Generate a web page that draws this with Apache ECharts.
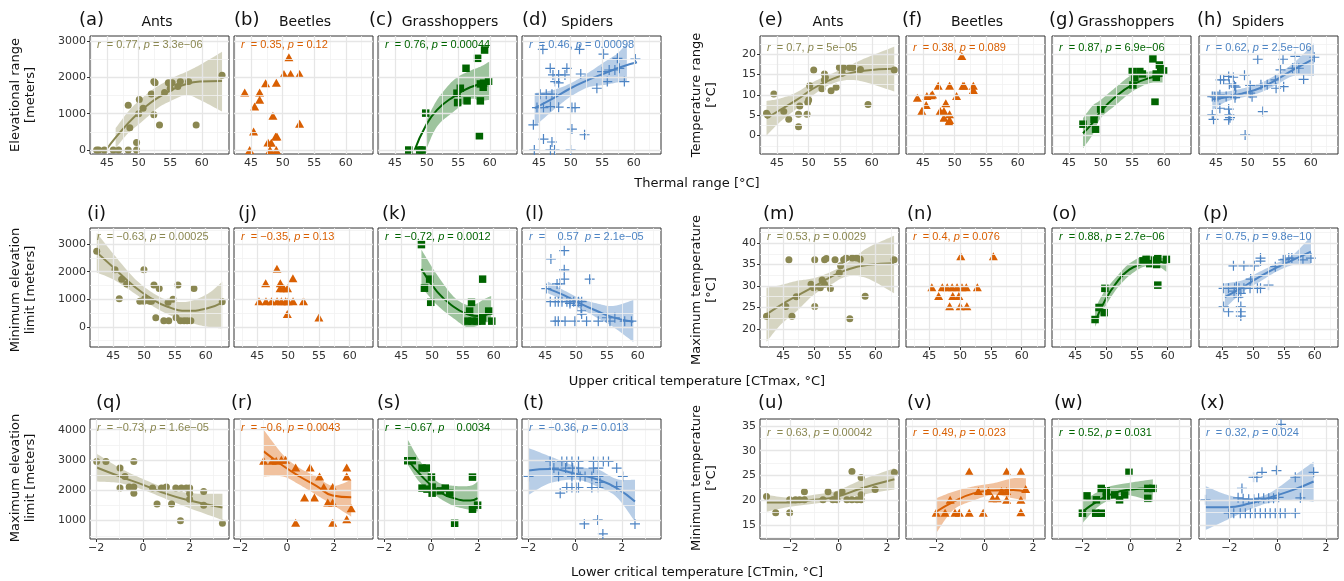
<!DOCTYPE html>
<html><head><meta charset="utf-8">
<script src="https://cdn.jsdelivr.net/npm/echarts@6/dist/echarts.min.js"></script>
<style>html,body{margin:0;padding:0;background:#fff}#c{width:1344px;height:581px}</style>
</head><body><div id="c"></div><script>
// ---------------- categories / labels ----------------
const taxa = ['Ants', 'Beetles', 'Grasshoppers', 'Spiders'];
const panelLetters = ['(a)','(b)','(c)','(d)','(e)','(f)','(g)','(h)','(i)','(j)','(k)','(l)','(m)','(n)','(o)','(p)','(q)','(r)','(s)','(t)','(u)','(v)','(w)','(x)'];
const annotations = [
  '{i|r}  = 0.77, {i|p} = 3.3e\u221206', '{i|r}  = 0.35, {i|p} = 0.12', '{i|r}  = 0.76, {i|p} = 0.00044', '{i|r}  = 0.46, {i|p} = 0.00098',
  '{i|r}  = 0.7, {i|p} = 5e\u221205', '{i|r}  = 0.38, {i|p} = 0.089', '{i|r}  = 0.87, {i|p} = 6.9e\u221206', '{i|r}  = 0.62, {i|p} = 2.5e\u221206',
  '{i|r}  = \u22120.63, {i|p} = 0.00025', '{i|r}  = \u22120.35, {i|p} = 0.13', '{i|r}  = \u22120.72, {i|p} = 0.0012', '{i|r}  =    0.57  {i|p} = 2.1e\u221205',
  '{i|r}  = 0.53, {i|p} = 0.0029', '{i|r}  = 0.4, {i|p} = 0.076', '{i|r}  = 0.88, {i|p} = 2.7e\u221206', '{i|r}  = 0.75, {i|p} = 9.8e\u221210',
  '{i|r}  = \u22120.73, {i|p} = 1.6e\u221205', '{i|r}  = \u22120.6, {i|p} = 0.0043', '{i|r}  = \u22120.67, {i|p}    0.0034', '{i|r}  = \u22120.36, {i|p} = 0.013',
  '{i|r}  = 0.63, {i|p} = 0.00042', '{i|r}  = 0.49, {i|p} = 0.023', '{i|r}  = 0.52, {i|p} = 0.031', '{i|r}  = 0.32, {i|p} = 0.024'
];
const xTitles = ['Thermal range [\u00b0C]', 'Upper critical temperature [CTmax, \u00b0C]', 'Lower critical temperature [CTmin, \u00b0C]'];
const yTitlesLeft = ['Elevational range\n[meters]', 'Minimum elevation\nlimit [meters]', 'Maximum elevation\nlimit [meters]'];
const yTitlesRight = ['Temperature range\n[\u00b0C]', 'Maximum temperature\n[\u00b0C]', 'Minimum temperature\n[\u00b0C]'];

// ---------------- tick labels (major) and minor grid ----------------
const xTicksThermal = [45, 50, 55, 60];
const xMinorThermal = [42.5, 47.5, 52.5, 57.5, 62.5];
const xTicksCTmax = [45, 50, 55, 60];
const xMinorCTmax = [42.5, 47.5, 52.5, 57.5, 62.5];
const xTicksCTmin = [-2, 0, 2];
const xMinorCTminL = [-1, 1, 3];
const xMinorCTminR = [-3, -1, 1];
const yTicksElevRange = [0, 1000, 2000, 3000];
const yMinorElevRange = [500, 1500, 2500];
const yTicksTempRange = [0, 5, 10, 15, 20];
const yMinorTempRange = [-2.5, 2.5, 7.5, 12.5, 17.5, 22.5];
const yTicksMinElev = [0, 1000, 2000, 3000];
const yMinorMinElev = [-500, 500, 1500, 2500, 3500];
const yTicksMaxTemp = [20, 25, 30, 35, 40];
const yMinorMaxTemp = [17.5, 22.5, 27.5, 32.5, 37.5, 42.5];
const yTicksMaxElev = [1000, 2000, 3000, 4000];
const yMinorMaxElev = [500, 1500, 2500, 3500];
const yTicksMinTemp = [15, 20, 25, 30, 35];
const yMinorMinTemp = [12.5, 17.5, 22.5, 27.5, 32.5];

// ---------------- data: points [x, y]; fits [x, y]; bands [x, lower, upper] ----------------
// (a) Ants: thermal range vs elevational range
const ptsA = [[43.35,0],[43.67,0],[44.56,0],[45.98,0],[46.83,0],[48.35,0],[49.67,0],[49.67,209],[48.35,1235],[48.6,612],[50.0,996],[50.1,1389],[50.7,1152],[52.0,1545],[52.4,1884],[52.6,1850],[52.4,969],[53.3,686],[54.1,1581],[54.7,1850],[55.3,1850],[55.0,1701],[56.2,1746],[56.6,1884],[57.9,1884],[59.1,686],[63.2,2058]];
const fitA = [[44.83,0],[46.5,374],[48.35,741],[49.93,1015],[51.78,1290],[53.36,1472],[55.46,1674],[57.57,1820],[59.68,1884],[63.2,1902]];
const bandA = [[46.36,55,604],[48.35,467,1060],[49.93,694,1335],[51.78,969,1610],[53.36,1197,1792],[55.46,1381,1994],[57.57,1518,2158],[59.68,1381,2342],[63.2,1060,2707]];
// (b) Beetles
const ptsB = [[50.99,2553],[50.2,2094],[51.26,2094],[52.68,2094],[47.3,1839],[49.0,1850],[44.0,1581],[46.36,1581],[46.36,1381],[45.57,1197],[48.46,942],[52.68,722],[45.4,511],[47.67,209],[48.2,200],[48.89,373],[49.1,373],[44.78,0],[48.0,0],[49.0,0]];
// (c) Grasshoppers
const ptsC = [[59.17,2753],[58.07,2525],[56.23,2251],[59.8,1894],[58.5,1820],[59.0,1840],[58.95,1729],[55.33,1701],[54.8,1565],[54.9,1307],[56.4,1353],[58.5,1353],[49.85,1016],[58.35,393],[47.17,0],[48.9,0],[49.3,0]];
const fitC = [[48.1,0],[49.8,648],[51.65,1106],[54.3,1472],[56.9,1729],[59.3,1840]];
const bandC = [[49.9,0,786],[51.65,648,1381],[54.3,1060,1930],[56.9,1400,2185],[58.5,1353,2295],[59.9,1381,2432]];
// (d) Spiders
const ptsD = [[45.6,2772],[51.4,2772],[55.2,2643],[57.4,2525],[60.25,2506],[46.77,2251],[49.4,2251],[47.2,2067],[48.1,2067],[49.1,2067],[51.6,2094],[54.98,2158],[56.1,2204],[57.0,2204],[57.7,2251],[55.8,1884],[58.5,1884],[54.15,1701],[47.56,1884],[48.1,1850],[45.2,1537],[46.14,1537],[47.04,1537],[44.67,1170],[45.7,1170],[46.8,1197],[48.1,1180],[50.2,1170],[50.7,1170],[44.1,694],[50.2,576],[52.2,420],[45.7,302],[47.04,220],[44.25,0],[46.8,0],[47.45,0],[50.0,0]];
const fitD = [[44.3,1153],[47.3,1427],[50.0,1701],[52.8,1930],[55.4,2114],[58.1,2295],[60.5,2415]];
const bandD = [[44.3,648,1565],[47.3,1106,1655],[50.0,1472,1839],[52.8,1729,2130],[55.4,1792,2432],[57.4,1860,2660],[58.9,1880,2937]];
// (e) Ants: thermal range vs temperature range
const ptsE = [[43.33,5.49],[43.5,5.07],[44.5,10.2],[46.06,5.88],[46.85,4.0],[48.4,5.24],[48.6,7.28],[48.4,2.2],[49.75,5.24],[49.85,8.09],[50.0,8.75],[50.17,12.2],[50.8,16.1],[52.1,11.5],[52.5,15.1],[52.65,14.3],[52.5,13.65],[53.55,11.0],[54.35,11.85],[54.86,16.67],[55.5,16.67],[55.3,15.3],[56.5,16.67],[57.0,16.67],[58.2,16.2],[59.4,7.6],[63.55,16.1]];
const fitE = [[43.33,4.26],[45.5,6.3],[48.1,8.75],[50.8,11.6],[53.4,13.65],[56.0,15.1],[58.7,15.9],[63.55,16.35]];
const bandE = [[43.33,0,8.5],[45.5,3.4,9.1],[48.1,6.6,10.6],[50.8,10.0,13.2],[53.4,12.5,15.0],[56.0,13.6,16.8],[58.7,13.2,18.8],[63.55,10.8,21.8]];
// (f) Beetles
const ptsF = [[51.13,19.5],[47.4,12.2],[49.2,12.2],[51.3,12.2],[51.5,12.2],[52.96,12.2],[52.96,11.2],[44.1,9.3],[45.6,9.7],[46.3,9.9],[46.5,10.1],[50.3,9.7],[48.6,7.9],[45.5,7.5],[44.8,6.05],[47.7,6.05],[48.3,6.05],[49.2,5.24],[48.3,4.4],[49.2,3.85],[49.1,3.4]];
// (g) Grasshoppers
const ptsG = [[58.27,18.8],[59.3,17.3],[59.5,16.5],[59.96,15.86],[55.0,15.7],[56.2,15.7],[56.6,15.1],[55.4,14.3],[58.8,15.1],[58.8,14.3],[55.1,12.4],[58.6,8.2],[50.0,6.5],[48.95,4.0],[47.2,2.8],[49.2,1.57]];
const fitG = [[47.2,0.59],[48.7,3.04],[50.0,5.9],[52.4,9.56],[55.0,12.4],[57.7,14.1],[59.8,14.6]];
const bandG = [[47.2,-3.1,4.26],[48.7,0.17,7.3],[50.0,4.26,8.75],[52.4,7.5,11.85],[55.0,10.8,14.9],[57.7,12.8,15.7],[59.8,13.0,15.9]];
// (h) Spiders
const ptsH = [[51.6,18.7],[55.6,18.7],[57.55,19.4],[60.55,19.2],[55.2,16.1],[57.1,16.5],[57.6,16.5],[58.1,16.5],[58.86,13.8],[54.4,13.65],[54.5,11.6],[55.7,12.0],[45.7,13.65],[46.2,13.65],[47.0,14.5],[47.7,14.3],[49.5,14.8],[47.1,12.6],[47.9,12.2],[48.1,11.9],[50.4,12.3],[52.1,12.45],[53.1,12.45],[44.4,9.56],[44.8,9.5],[45.3,9.6],[45.6,10.0],[46.6,9.56],[48.1,10.0],[50.4,10.4],[50.7,9.5],[48.0,9.3],[44.4,5.07],[44.6,4.0],[45.6,6.7],[47.0,6.5],[47.1,5.07],[47.2,4.4],[47.0,3.9],[52.4,5.9],[49.6,0.17]];
const fitH = [[44.4,8.9],[46.6,9.4],[49.3,10.4],[51.9,11.6],[54.5,13.65],[57.2,16.1],[60.3,18.7]];
const bandH = [[44.4,6.3,10.8],[46.6,8.3,10.8],[49.3,9.4,11.6],[51.9,10.5,12.8],[54.5,12.4,14.9],[57.2,14.6,17.7],[60.5,14.6,22.6]];
// (i) Ants: CTmax vs minimum elevation
const ptsI = [[42.29,2737],[45.26,2069],[46.35,1730],[47.16,1558],[45.96,1022],[49.97,2069],[49.3,927],[49.97,930],[50.1,1022],[50.9,930],[51.2,930],[51.6,1522],[52.45,1387],[53.9,890],[54.7,1000],[55.5,1522],[58.1,1387],[62.7,912],[51.9,328],[53.2,219],[54.0,219],[55.2,328],[55.9,219],[56.5,219],[57.0,219],[57.6,219]];
const fitI = [[42.3,2700],[45.1,2131],[48.4,1460],[51.1,1036],[53.8,730],[57.0,584],[60.3,672],[62.7,876]];
const bandI = [[42.3,1971,3409],[45.1,1704,2617],[48.4,1219,1766],[51.1,792,1277],[53.8,464,974],[57.0,182,912],[60.3,0,1193],[62.7,-60,1642]];
// (j) Beetles
const ptsJ = [[48.18,2106],[50.78,1766],[46.35,1584],[48.73,1584],[48.7,1401],[49.3,1401],[49.9,1401],[45.26,927],[46.4,927],[47.3,927],[48.2,927],[48.9,927],[49.6,927],[50.0,927],[50.8,927],[52.5,927],[49.87,464],[55.0,343]];
// (k) Grasshoppers
const ptsK = [[48.26,2982],[49.6,1730],[48.75,1401],[49.77,890],[58.2,1730],[56.4,890],[56.1,573],[59.2,573],[55.7,208],[56.5,208],[57.3,208],[58.1,208],[58.2,328],[59.7,208]];
const fitK = [[48.26,2094],[50.8,1277],[53.5,730],[55.7,464],[57.3,391],[58.4,410],[59.6,520]];
const bandK = [[48.26,1438,2800],[50.8,792,1887],[53.5,306,1095],[55.7,-22,792],[57.3,30,850],[58.4,150,1000],[59.6,182,1120]];
// (l) Spiders
const ptsL = [[48.07,2763],[45.9,2460],[48.07,2069],[48.07,1730],[52.2,1730],[46.9,1558],[47.4,1558],[45.15,1387],[45.8,912],[46.6,912],[47.1,912],[47.7,912],[48.5,912],[49.0,912],[49.6,912],[50.4,912],[50.9,912],[49.0,850],[50.1,780],[50.8,584],[50.9,464],[46.6,208],[47.1,208],[48.2,208],[49.8,208],[51.7,208],[53.6,208],[55.0,330],[55.5,208],[56.3,330],[57.9,208],[59.0,208]];
const fitL = [[45.4,1387],[47.9,1157],[50.6,854],[53.3,584],[56.0,343],[59.3,182]];
const bandL = [[45.4,1219,1642],[47.9,974,1339],[50.6,671,1036],[53.3,343,854],[56.0,0,755],[59.3,-547,974]];
// (m) Ants: CTmax vs maximum temperature
const ptsM = [[42.26,22.98],[45.4,25.2],[46.4,22.98],[45.9,36.1],[47.1,27.5],[49.5,30.4],[49.9,29.6],[50.1,36.1],[50.1,25.2],[51.0,29.6],[51.3,31.4],[51.7,30.4],[51.7,36.1],[52.0,36.4],[52.65,29.4],[53.4,36.1],[54.1,33.0],[54.3,34.7],[54.8,36.1],[55.2,36.5],[56.2,36.5],[56.9,36.5],[57.5,36.2],[55.8,22.35],[58.3,27.6],[63.0,36.1]];
const fitM = [[42.26,23.4],[44.5,25.5],[47.2,27.7],[49.9,29.8],[52.6,32.0],[55.3,33.75],[58.6,34.9],[63.0,35.3]];
const bandM = [[42.26,17.0,29.6],[44.5,20.9,30.2],[47.2,24.2,31.2],[49.9,27.9,31.8],[52.6,30.2,33.2],[55.3,32.2,35.3],[58.6,31.8,38.8],[63.0,28.3,41.7]];
// (n) Beetles
const ptsN = [[50.1,36.9],[55.4,36.9],[45.4,29.7],[47.1,29.7],[47.9,29.7],[48.7,29.7],[49.5,29.7],[50.3,29.7],[51.0,29.7],[52.8,29.7],[46.5,27.65],[48.8,27.65],[49.8,27.65],[48.3,25.3],[50.0,25.3],[51.1,25.3]];
// (o) Grasshoppers
const ptsO = [[56.0,35.85],[56.5,36.2],[57.1,35.2],[57.9,36.0],[58.4,36.4],[59.8,36.2],[58.2,35.0],[58.4,30.2],[49.8,29.45],[48.85,25.0],[49.7,23.8],[48.2,22.2]];
const fitO = [[48.2,21.6],[49.7,26.3],[51.6,30.6],[53.7,33.75],[56.0,35.15],[58.2,35.7],[59.8,35.15]];
const bandO = [[48.2,20.5,24.8],[49.7,24.8,28.7],[51.6,29.1,32.0],[53.7,32.3,35.15],[56.0,34.4,36.9],[58.2,34.7,36.9],[59.8,33.3,36.1]];
// (p) Spiders
const ptsP = [[59.4,36.5],[58.1,36.1],[56.3,36.5],[55.8,36.5],[55.2,36.2],[54.9,36.1],[53.6,34.5],[51.2,36.5],[51.2,35.8],[46.8,34.7],[48.5,34.7],[50.2,34.7],[49.6,31.6],[52.5,30.2],[46.0,29.45],[47.0,29.45],[47.7,29.45],[48.5,29.45],[49.5,29.45],[50.7,29.45],[51.2,29.45],[45.2,29.45],[47.3,29.8],[46.9,28.8],[48.0,28.3],[47.6,27.4],[45.2,25.2],[46.0,24.0],[48.0,25.2],[48.0,24.0],[48.0,23.0]];
const fitP = [[45.4,27.4],[48.4,29.8],[51.1,32.2],[53.8,34.3],[56.5,36.1],[59.4,38.0]];
const bandP = [[45.4,24.8,30.6],[48.4,28.7,31.4],[51.1,31.0,33.35],[53.8,33.35,35.3],[56.5,34.9,37.3],[59.4,35.15,41.5]];
// (q) Ants: CTmin vs maximum elevation
const ptsQ = [[-1.975,2954],[-1.58,2954],[-0.98,2735],[-0.77,2457],[-0.98,2073],[-0.59,2106],[-0.39,2954],[-0.39,2106],[-0.39,1907],[0.41,2073],[0.6,1553],[0.79,2073],[0.93,2073],[1.0,2106],[1.22,1553],[1.4,2073],[1.64,2073],[1.85,2073],[1.99,2073],[1.99,1907],[1.99,1709],[1.6,1000],[2.59,1960],[2.59,1510],[3.39,914]];
const fitQ = [[-1.975,2755],[-0.98,2457],[0.01,2182],[1.0,1884],[1.99,1662],[3.39,1430]];
const bandQ = [[-1.975,2291,3209],[-0.98,2238,2735],[0.01,2017,2371],[1.0,1709,2073],[1.99,1410,1907],[3.39,1022,1884]];
// (r) Beetles
const ptsR = [[-0.996,2977],[-0.63,2977],[-0.46,2977],[-0.24,3010],[-0.06,3010],[0.37,2755],[0.99,2755],[1.39,2457],[1.57,2106],[1.95,2106],[2.55,2755],[2.55,2457],[0.75,1762],[1.17,1762],[1.74,1596],[1.95,1596],[2.74,1410],[0.37,934],[1.95,934],[2.55,1046]];
const fitR = [[-0.996,3285],[-0.17,2811],[0.54,2457],[1.25,2149],[1.95,1830],[2.74,1770]];
const bandR = [[-0.996,2457,4003],[-0.17,2457,3175],[0.54,2182,2735],[1.25,1851,2457],[1.95,1520,2149],[2.74,1132,2348]];
// (s) Grasshoppers
const ptsS = [[-0.99,2977],[-0.8,2977],[-0.38,2735],[-0.2,2735],[0.02,2437],[-0.38,2073],[-0.17,2040],[0.05,2106],[0.05,1907],[0.4,1983],[0.61,2073],[0.8,1907],[1.77,2437],[1.77,1377],[1.99,1510],[1.01,914]];
const fitS = [[-0.99,3010],[-0.45,2513],[0.26,2017],[0.97,1742],[1.68,1662],[1.99,1742]];
const bandS = [[-0.99,2844,3672],[-0.45,2238,2954],[0.26,1795,2291],[0.97,1487,2149],[1.68,1354,2149],[1.99,1298,2291]];
// (t) Spiders
const ptsT = [[-1.98,2457],[-1.06,2954],[-0.56,2954],[-0.35,2954],[-0.13,2954],[0.15,2954],[-0.9,2735],[-0.4,2735],[-0.1,2735],[0.15,2735],[-0.7,2457],[-0.13,2457],[0.22,2457],[0.43,2457],[0.72,2457],[1.0,2457],[0.79,2954],[1.0,2954],[1.21,2954],[1.43,2954],[0.79,2735],[1.0,2735],[1.78,2735],[2.04,2457],[1.07,2258],[1.78,2126],[-0.35,2093],[-0.13,2093],[0.05,2093],[0.15,2093],[0.72,2093],[1.0,2093],[-0.63,1907],[0.4,891],[0.97,1023],[1.19,560],[2.56,891]];
const fitT = [[-1.98,2656],[-1.06,2702],[0.08,2536],[1.0,2348],[1.78,2073],[2.56,1629]];
const bandT = [[-1.98,1851,3397],[-1.06,2238,3119],[0.08,2348,2788],[1.0,2106,2679],[1.78,1775,2371],[2.56,967,2348]];
// (u) Ants: CTmin vs minimum temperature
const ptsU = [[-2.99,20.75],[-2.61,17.5],[-2.03,17.5],[-2.03,20.1],[-1.79,20.1],[-1.62,20.1],[-1.42,20.1],[-1.42,21.75],[-0.65,20.1],[-0.44,21.75],[-0.24,20.1],[-0.07,20.1],[-0.07,21.1],[0.14,21.75],[0.34,20.1],[0.55,20.1],[0.76,20.1],[0.93,20.1],[0.55,25.8],[0.93,24.6],[0.93,21.1],[1.51,22.2],[2.31,25.6]];
const fitU = [[-2.99,19.55],[-2.03,19.55],[-1.04,20.1],[-0.07,20.75],[0.93,22.4],[2.31,24.25]];
const bandU = [[-2.99,17.7,21.1],[-2.03,18.7,20.55],[-1.04,19.3,21.1],[-0.07,19.95,21.95],[0.93,21.1,24.1],[2.31,22.2,26.5]];
// (v) Beetles
const ptsV = [[-2.01,17.5],[-1.64,17.5],[-1.43,20.1],[-1.23,17.5],[-1.05,17.5],[-0.64,25.8],[-0.64,17.5],[-0.26,21.9],[-0.06,17.5],[0.15,21.9],[0.33,20.4],[0.52,20.4],[0.7,21.9],[0.91,21.9],[0.91,25.8],[0.91,20.1],[1.5,25.8],[1.7,22.3],[1.5,20.1],[1.5,17.6]];
const fitV = [[-2.01,17.7],[-1.3,19.7],[-0.47,21.4],[0.36,22.0],[1.18,22.1],[1.71,21.75]];
const bandV = [[-2.01,13.4,20.4],[-1.3,18.05,21.75],[-0.47,19.95,22.8],[0.36,21.1,23.45],[1.18,20.4,24.45],[1.71,20.1,24.45]];
// (w) Grasshoppers
const ptsW = [[-2.0,17.4],[-1.81,20.9],[-1.45,17.4],[-1.22,17.4],[-1.42,20.1],[-1.22,22.4],[-1.01,21.9],[-1.01,20.6],[-0.66,21.1],[-0.46,20.1],[-0.25,21.1],[-0.07,25.65],[0.71,22.4],[0.92,22.4],[0.71,20.4]];
const fitW = [[-2.0,17.7],[-1.42,19.7],[-0.87,21.1],[-0.18,22.1],[0.92,22.4]];
const bandW = [[-2.0,15.4,19.7],[-1.42,18.4,21.55],[-0.87,20.1,22.8],[-0.18,21.1,23.45],[0.92,19.7,24.25]];
// (x) Spiders
const ptsX = [[0.14,35.3],[-2.99,20.1],[-2.03,17.4],[-1.82,17.4],[-1.55,17.4],[-1.34,17.4],[-1.13,17.4],[-0.93,17.4],[-0.72,17.4],[-0.51,17.4],[-0.31,17.4],[-0.1,17.4],[0.11,17.4],[0.31,17.4],[0.73,17.4],[-1.64,20.5],[-1.43,20.3],[-1.2,20.2],[-0.99,20.2],[-0.79,20.4],[-0.58,20.4],[-0.37,20.4],[-0.17,20.4],[0.04,20.6],[-1.48,22.4],[-1.0,24.65],[-0.86,24.65],[-0.65,25.65],[-0.05,26.0],[0.73,24.65],[0.94,20.5],[1.49,25.65]];
const fitX = [[-2.99,18.6],[-2.1,18.6],[-1.13,19.4],[-0.31,20.6],[0.64,22.1],[1.49,23.8]];
const bandX = [[-2.99,14.0,22.9],[-2.1,16.05,21.1],[-1.13,18.2,20.4],[-0.31,19.55,21.55],[0.64,20.1,24.8],[1.49,19.7,27.8]];

const panelPts = [ptsA,ptsB,ptsC,ptsD,ptsE,ptsF,ptsG,ptsH,ptsI,ptsJ,ptsK,ptsL,ptsM,ptsN,ptsO,ptsP,ptsQ,ptsR,ptsS,ptsT,ptsU,ptsV,ptsW,ptsX];
const panelFit = [fitA,null,fitC,fitD,fitE,null,fitG,fitH,fitI,null,fitK,fitL,fitM,null,fitO,fitP,fitQ,fitR,fitS,fitT,fitU,fitV,fitW,fitX];
const panelBand = [bandA,null,bandC,bandD,bandE,null,bandG,bandH,bandI,null,bandK,bandL,bandM,null,bandO,bandP,bandQ,bandR,bandS,bandT,bandU,bandV,bandW,bandX];

// ---------------- layout & style ----------------
const colLeft = [90, 234, 378, 522, 760, 906, 1052, 1199];
const rowTop = [36, 228, 419];
const rowH = [118, 119, 120];
const panelW = 139;
const xRange = [[[42.3,64.3],[42.3,64.3]], [[41.2,63.8],[41.2,63.8]], [[-2.26,3.67],[-3.26,2.5]]];
const yRange = [[[-110,3140],[-4.5,24.4]], [[-730,3584],[15.8,43.5]], [[394,4354],[12.2,36.4]]];
const xTickSets = [[[xTicksThermal,xMinorThermal],[xTicksThermal,xMinorThermal]], [[xTicksCTmax,xMinorCTmax],[xTicksCTmax,xMinorCTmax]], [[xTicksCTmin,xMinorCTminL],[xTicksCTmin,xMinorCTminR]]];
const yTickSets = [[[yTicksElevRange,yMinorElevRange],[yTicksTempRange,yMinorTempRange]], [[yTicksMinElev,yMinorMinElev],[yTicksMaxTemp,yMinorMaxTemp]], [[yTicksMaxElev,yMinorMaxElev],[yTicksMinTemp,yMinorMinTemp]]];
const taxonColor = ['#8a8751', '#d95f02', '#006400', '#4d84c4'];
const bandOpacity = [0.35, 0.38, 0.38, 0.4];
const plusPath = 'path://M4.4,0H5.6V4.4H10V5.6H5.6V10H4.4V5.6H0V4.4H4.4Z';
const taxonSymbol = ['circle', 'triangle', 'rect', plusPath];
const taxonSize = [7, [9, 8], 7.5, 10];
const letterX = [[79,234,369,522,758,902,1049,1197],[87,238,382,525,763,907,1052,1203],[96,231,377,523,758,907,1054,1200]];
const letterY = [20, 214, 403];
const stripX = [157,305,450,587,828,977,1126,1258];
const annDy = [[9,11.5],[8.5,8.5],[9,14]];
const FONT = '"DejaVu Sans", sans-serif';

function crSpline(p) {
  if (p.length < 3) return p;
  const out = [];
  for (let i = 0; i < p.length - 1; i++) {
    const p0 = p[i - 1] || p[i], p1 = p[i], p2 = p[i + 1], p3 = p[i + 2] || p[i + 1];
    for (let s = 0; s < 12; s++) {
      const t = s / 12, t2 = t * t, t3 = t2 * t;
      const f = (a, b, c, d) => 0.5 * (2 * b + (-a + c) * t + (2 * a - 5 * b + 4 * c - d) * t2 + (-a + 3 * b - 3 * c + d) * t3);
      out.push([f(p0[0], p1[0], p2[0], p3[0]), f(p0[1], p1[1], p2[1], p3[1])]);
    }
  }
  out.push(p[p.length - 1]);
  return out;
}
function bandRenderer(band, color, opacity) {
  return function (params, api) {
    if (params.dataIndexInside !== 0) return null;
    const top = band.map(d => api.coord([d[0], d[2]]));
    const bot = band.map(d => api.coord([d[0], d[1]]));
    const pts = crSpline(top).concat(crSpline(bot).reverse());
    return { type: 'polygon', shape: { points: pts }, style: { fill: color, opacity: opacity }, silent: true };
  };
}
const fmt = v => String(v).replace('-', '\u2212');

const grids = [], xAxes = [], yAxes = [], series = [], graphics = [];
for (let k = 0; k < 24; k++) {
  const r = Math.floor(k / 8), c = k % 8, g = c < 4 ? 0 : 1, t = c % 4;
  const color = taxonColor[t];
  grids.push({ left: colLeft[c], top: rowTop[r], width: panelW, height: rowH[r], show: true,
    borderColor: '#333', borderWidth: 1, backgroundColor: '#fff', containLabel: false });
  const [xt, xm] = xTickSets[r][g];
  const [yt, ym] = yTickSets[r][g];
  xAxes.push({ gridIndex: k, type: 'value', min: xRange[r][g][0], max: xRange[r][g][1],
    axisLine: { show: false }, splitLine: { show: false },
    axisTick: { show: true, customValues: xt, length: 3, lineStyle: { color: '#333', width: 1 } },
    axisLabel: { show: true, customValues: xt, margin: 4, color: '#333', fontSize: 11, fontFamily: FONT, formatter: fmt } });
  const showY = (c === 0 || c === 4);
  yAxes.push({ gridIndex: k, type: 'value', min: yRange[r][g][0], max: yRange[r][g][1],
    axisLine: { show: false }, splitLine: { show: false },
    axisTick: { show: showY, customValues: yt, length: 3, lineStyle: { color: '#333', width: 1 } },
    axisLabel: { show: showY, customValues: yt, margin: 4, color: '#333', fontSize: 11, fontFamily: FONT, formatter: fmt } });
  const major = { type: 'solid', color: '#e6e6e6', width: 1.3 };
  const minor = { type: 'solid', color: '#f1f1f1', width: 0.8 };
  const ml = [].concat(
    xm.map(v => ({ xAxis: v, lineStyle: minor })), ym.map(v => ({ yAxis: v, lineStyle: minor })),
    xt.map(v => ({ xAxis: v, lineStyle: major })), yt.map(v => ({ yAxis: v, lineStyle: major })));
  series.push({ type: 'scatter', xAxisIndex: k, yAxisIndex: k, data: [[xRange[r][g][0], yRange[r][g][0]]], symbolSize: 0, silent: true, z: 1,
    markLine: { silent: true, symbol: ['none', 'none'], label: { show: false }, data: ml, animation: false } });
  if (panelBand[k]) {
    series.push({ type: 'custom', xAxisIndex: k, yAxisIndex: k, data: panelBand[k], clip: true, silent: true, z: 2,
      dimensions: ['x', 'lo', 'hi'], encode: { x: 0, y: [1, 2] },
      renderItem: bandRenderer(panelBand[k], color, bandOpacity[t]) });
  }
  if (panelFit[k]) {
    series.push({ type: 'line', xAxisIndex: k, yAxisIndex: k, data: panelFit[k], smooth: true, symbol: 'none', silent: true, z: 3,
      lineStyle: { color: color, width: 2 } });
  }
  series.push({ type: 'scatter', xAxisIndex: k, yAxisIndex: k, data: panelPts[k], symbol: taxonSymbol[t], symbolSize: taxonSize[t],
    itemStyle: { color: color, opacity: 1 }, silent: true, z: 4 });

  // panel letter
  graphics.push({ type: 'text', x: letterX[r][c], y: letterY[r], z: 10,
    style: { text: panelLetters[k], font: '18px ' + FONT, fill: '#111', align: 'left', verticalAlign: 'middle' } });
  if (r === 0) {
    graphics.push({ type: 'text', x: stripX[c], y: 22, z: 10,
      style: { text: taxa[t], font: '14px ' + FONT, fill: '#111', align: 'center', verticalAlign: 'middle' } });
  }
  graphics.push({ type: 'text', x: colLeft[c] + 7, y: rowTop[r] + annDy[r][g], z: 10,
    style: { text: annotations[k], font: '11px "Liberation Sans", Arial, sans-serif', fill: color, align: 'left', verticalAlign: 'middle',
      rich: { i: { fontStyle: 'italic', fill: color, fontSize: 11, fontFamily: '"Liberation Sans", Arial, sans-serif' } } } });
}
// axis titles
const xTitleY = [184, 382, 573];
const yTitleY = [95, 290, 478];
for (let r = 0; r < 3; r++) {
  graphics.push({ type: 'text', x: 697, y: xTitleY[r], z: 10,
    style: { text: xTitles[r], font: '13px ' + FONT, fill: '#111', align: 'center', verticalAlign: 'middle' } });
  graphics.push({ type: 'text', x: 23.5, y: yTitleY[r], rotation: Math.PI / 2, z: 10,
    style: { text: yTitlesLeft[r], font: '13px ' + FONT, fill: '#111', align: 'center', verticalAlign: 'middle', lineHeight: 15 } });
  graphics.push({ type: 'text', x: 704.5, y: yTitleY[r], rotation: Math.PI / 2, z: 10,
    style: { text: yTitlesRight[r], font: '13px ' + FONT, fill: '#111', align: 'center', verticalAlign: 'middle', lineHeight: 15 } });
}

const chart = echarts.init(document.getElementById('c'), null, { renderer: 'canvas', width: 1344, height: 581 });
chart.setOption({ animation: false, backgroundColor: '#fff', grid: grids, xAxis: xAxes, yAxis: yAxes, series: series, graphic: { elements: graphics } });
</script></body></html>
